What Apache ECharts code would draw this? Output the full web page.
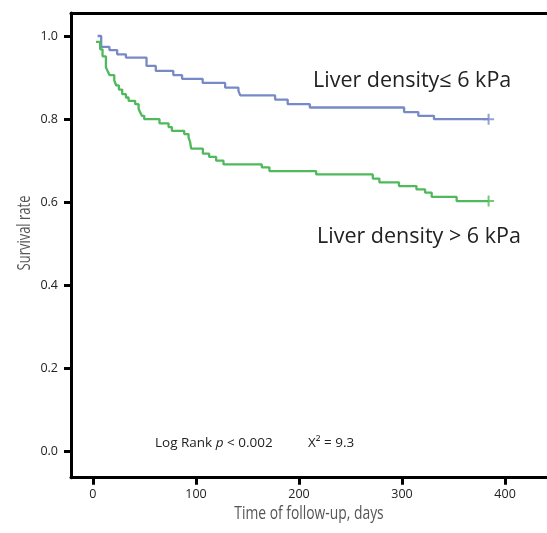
<!DOCTYPE html>
<html><head><meta charset="utf-8">
<script src="https://cdn.jsdelivr.net/npm/echarts@6/dist/echarts.min.js"></script>
<style>html,body{margin:0;padding:0;background:#fff}#c{width:547px;height:533px}</style>
</head><body><div id="c"></div>
<script>
const xTicks = [0, 100, 200, 300, 400];
const yTicks = [0, 0.2, 0.4, 0.6, 0.8, 1.0];
const lowDays = [4.5, 8, 16, 23.5, 32, 52, 61, 78, 86.5, 106.5, 128.3, 141.2, 143, 176.8, 189, 210.5, 302, 315.8, 331, 384];
const lowSurv = [1.0, 0.974, 0.966, 0.956, 0.948, 0.928, 0.916, 0.906, 0.897, 0.887, 0.876, 0.868, 0.857, 0.847, 0.836, 0.828, 0.817, 0.808, 0.800, 0.800];
const highDays = [3, 7, 9.3, 12.6, 14.2, 16.1, 20.7, 22.6, 25.2, 28.4, 32, 34.6, 41, 44.3, 45.9, 47.5, 49.8, 64.6, 73.4, 76.6, 88.6, 92.8, 94.3, 95.3, 106.7, 112.8, 119.6, 126.7, 163.9, 171.3, 216.7, 271.6, 278, 297, 314, 322.4, 328.8, 353, 384];
const highSurv = [0.986, 0.968, 0.951, 0.925, 0.916, 0.906, 0.893, 0.881, 0.871, 0.860, 0.852, 0.844, 0.836, 0.825, 0.816, 0.808, 0.800, 0.790, 0.781, 0.772, 0.764, 0.756, 0.745, 0.729, 0.717, 0.709, 0.700, 0.691, 0.684, 0.675, 0.667, 0.657, 0.648, 0.639, 0.631, 0.623, 0.613, 0.603, 0.603];
const censorDays = [384];
const lowCensorSurv = [0.800];
const highCensorSurv = [0.603];

const BLUE = '#7789c6', GREEN = '#4fb95c';
const FONT = '"Open Sans", "Noto Sans", sans-serif';
const plus = 'path://M4.1,0H5.9V4.1H10V5.9H5.9V10H4.1V5.9H0V4.1H4.1Z';
const zip = (a, b) => a.map((v, i) => [v, b[i]]);

const chart = echarts.init(document.getElementById('c'), null, {renderer: 'canvas'});
const xBase = {
  type: 'value', min: -21.3, max: 440.7, splitLine: {show: false}
};
chart.setOption({
  animation: false,
  grid: {left: 71, right: 0, top: 13, bottom: 55.3, containLabel: false},
  xAxis: [
    Object.assign({}, xBase, {
      position: 'bottom',
      axisLine: {onZero: false, lineStyle: {color: '#000', width: 3}},
      axisTick: {show: true, length: 7, lineStyle: {color: '#000', width: 3}, customValues: xTicks},
      axisLabel: {customValues: xTicks, margin: 10, color: '#222', fontSize: 12.5, fontFamily: FONT}
    }),
    Object.assign({}, xBase, {
      position: 'top',
      axisLine: {onZero: false, lineStyle: {color: '#000', width: 3}},
      axisTick: {show: false}, axisLabel: {show: false}
    })
  ],
  yAxis: {
    type: 'value', min: -0.0625, max: 1.0553, splitLine: {show: false},
    axisLine: {show: true, onZero: false, lineStyle: {color: '#000', width: 3}},
    axisTick: {show: true, length: 7, lineStyle: {color: '#000', width: 3}, customValues: yTicks},
    axisLabel: {customValues: yTicks, margin: 13, color: '#222', fontSize: 12.5, fontFamily: FONT,
      formatter: v => v.toFixed(1)}
  },
  series: [
    {type: 'line', step: 'end', data: zip(lowDays, lowSurv), showSymbol: false, symbol: 'none',
      lineStyle: {color: BLUE, width: 2.3}, z: 3},
    {type: 'line', step: 'end', data: zip(highDays, highSurv), showSymbol: false, symbol: 'none',
      lineStyle: {color: GREEN, width: 2.3}, z: 3},
    {type: 'scatter', data: zip(censorDays, lowCensorSurv), symbol: plus, symbolSize: 11,
      itemStyle: {color: BLUE}, z: 4},
    {type: 'scatter', data: zip(censorDays, highCensorSurv), symbol: plus, symbolSize: 11,
      itemStyle: {color: GREEN}, z: 4}
  ],
  graphic: [
    {type: 'text', left: 313, top: 70, style: {text: 'Liver density≤ 6 kPa', font: '21.5px ' + FONT, fill: '#222'}},
    {type: 'text', left: 317, top: 226, style: {text: 'Liver density > 6 kPa', font: '21.5px ' + FONT, fill: '#222'}},
    {type: 'text', left: 155, top: 436, style: {rich: {a: {font: '13.5px ' + FONT, fill: '#222'}, i: {font: 'italic 13.5px ' + FONT, fill: '#222'}}, text: '{a|Log Rank }{i|p}{a| < 0.002}'}},
    {type: 'text', left: 308, top: 436, style: {text: 'X² = 9.3', font: '13.5px ' + FONT, fill: '#222'}},
    {type: 'text', x: 309, y: 514, scaleX: 0.77, style: {text: 'Time of follow-up, days', font: '18px ' + FONT, fill: '#555', align: 'center', verticalAlign: 'middle'}},
    {type: 'text', x: 25, y: 233, rotation: Math.PI / 2, scaleX: 0.72, style: {text: 'Survival rate', font: '18px ' + FONT, fill: '#555', align: 'center', verticalAlign: 'middle'}}
  ]
});
</script></body></html>
